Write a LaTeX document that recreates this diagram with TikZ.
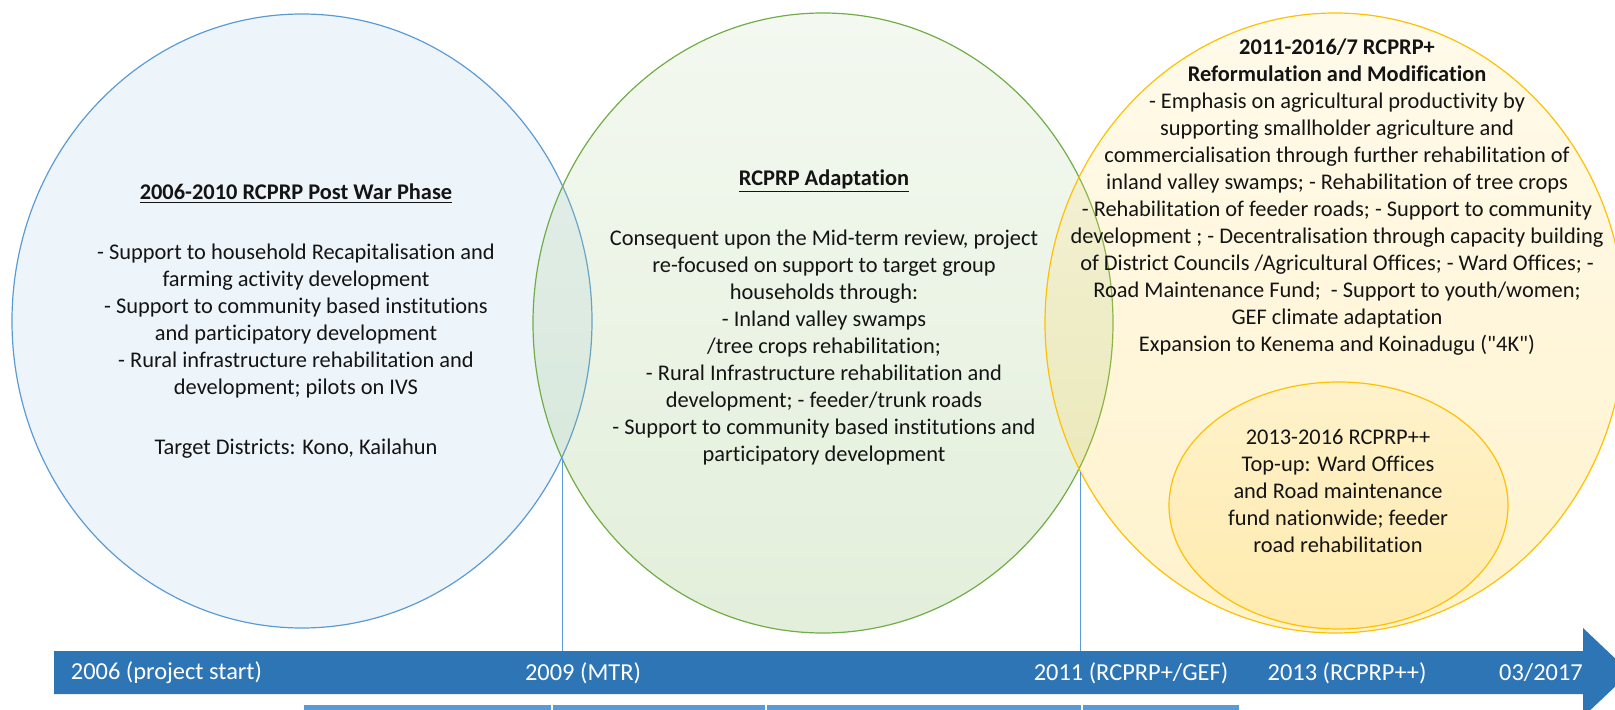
\documentclass[tikz,border=0pt]{standalone}
\usepackage{fontspec}
\setmainfont{Carlito}[Ligatures={NoCommon,TeXOff}]
\usepackage{tikz}

\definecolor{cblue}{RGB}{91,155,213}
\definecolor{cdark}{RGB}{46,117,182}
\definecolor{cgreen}{RGB}{112,173,71}
\definecolor{cyellow}{RGB}{255,192,0}
\definecolor{ctext}{RGB}{20,20,20}

\begin{document}
\begin{tikzpicture}[x=0.5pt,y=0.5pt,
        txt/.style={align=center,inner sep=0pt,text=ctext,font=\fontsize{11.2}{13.5}\selectfont},
        yearlabel/.style={inner sep=0pt,text=white,font=\fontsize{12.2}{14}\selectfont},
        tick/.style={draw=cblue,line width=0.5pt}]
        \useasboundingbox (0,0) rectangle (1615,-710);
        \clip (0,0) rectangle (1615,-710);

        % 三个阶段的圆
        \draw[draw=cblue,line width=0.6pt,fill=cblue,fill opacity=0.11] (302,-321) ellipse (290 and 307);
        \draw[draw=cgreen,line width=0.6pt,top color=cgreen!40!white,bottom color=cgreen,fill opacity=0.2] (823,-323) ellipse (290 and 310);
        \draw[draw=cyellow,line width=0.6pt,top color=cyellow!40!white,bottom color=cyellow,fill opacity=0.2] (1335,-323) ellipse (290 and 310);
        \draw[draw=cyellow,line width=0.6pt,top color=cyellow!40!white,bottom color=cyellow!80!white,fill opacity=0.2] (1338.5,-505.5) ellipse (169.5 and 123.5);

        % 竖线
        \coordinate (mtr) at (562.6,-458);
        \coordinate (gef) at (1080,-472);
        \coordinate (bartop) at (0,-651);
        \draw[tick] (mtr) -- (mtr |- bartop);
        \draw[tick] (gef) -- (gef |- bartop);

        % 时间轴箭头
        \fill[cdark] (54,-651) -- (1583,-651) -- (1583,-628) -- (1630,-672.5)
            -- (1583,-717) -- (1583,-694) -- (54,-694) -- cycle;

        % 下方的方框
        \foreach \a/\b in {303/552,552/766,766/1082,1082/1240} {
            \draw[draw=white,line width=0.8pt,fill=cblue] (\a,-704) rectangle (\b,-740);
        }

        % 时间轴上的标签
        \foreach \x/\t [count=\i] in {166.5/{2006 (project start)},583/{2009 (MTR)},
            1131/{2011 (RCPRP+/GEF)},1347/{2013 (RCPRP++)},1541/{03/2017}} {
            \node[yearlabel] (year\i) at (\x,-673) {\t};
        }

        % 圆中的文字
        \node[txt] (postwar) at (296,-321) {\underline{\textbf{2006-2010 RCPRP Post War Phase}}\\[16.5pt]
            - Support to household Recapitalisation and\\
            farming activity development\\
            - Support to community based institutions\\
            and participatory development\\
            - Rural infrastructure rehabilitation and\\
            development; pilots on IVS\\[16.5pt]
            Target Districts: Kono, Kailahun};

        \node[txt] (adapt) at (824,-317) {\underline{\textbf{RCPRP Adaptation}}\\[16.5pt]
            Consequent upon the Mid-term review, project\\
            re-focused on support to target group\\
            households through:\\
            - Inland valley swamps\\
            /tree crops rehabilitation;\\
            - Rural Infrastructure rehabilitation and\\
            development; - feeder/trunk roads\\
            - Support to community based institutions and\\
            participatory development};

        \node[txt] (reform) at (1337,-197) {\textbf{2011-2016/7 RCPRP+}\\
            \textbf{Reformulation and Modification}\\
            - Emphasis on agricultural productivity by\\
            supporting smallholder agriculture and\\
            commercialisation through further rehabilitation of\\
            inland valley swamps; - Rehabilitation of tree crops\\
            - Rehabilitation of feeder roads; - Support to community\\
            development ; - Decentralisation through capacity building\\
            of District Councils /Agricultural Offices; - Ward Offices; -\\
            Road Maintenance Fund; \ - Support to youth/women;\\
            GEF climate adaptation\\
            Expansion to Kenema and Koinadugu ("4K")};

        \node[txt] (topup) at (1338,-491.5) {2013-2016 RCPRP++\\
            Top-up: Ward Offices\\
            and Road maintenance\\
            fund nationwide; feeder\\
            road rehabilitation};

    \end{tikzpicture}
\end{document}
